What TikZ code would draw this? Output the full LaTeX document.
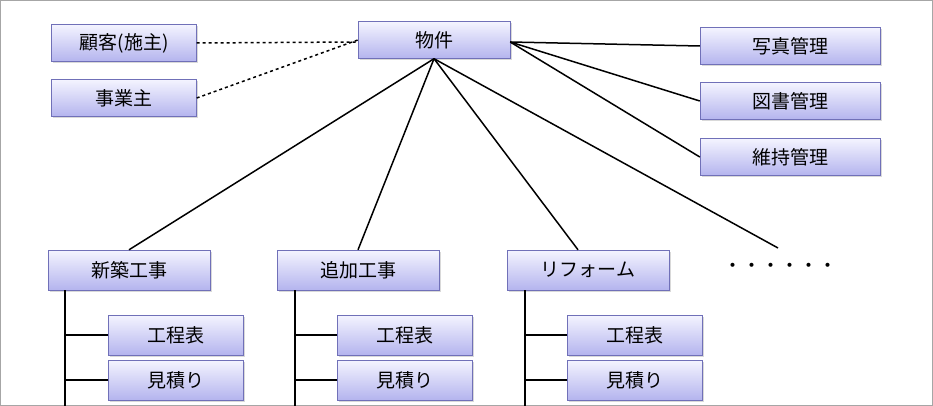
\documentclass[tikz,border=0pt]{standalone}
\usepackage{fontspec}
\newfontfamily\cjk{Noto Sans CJK JP}
\usetikzlibrary{shadows}
\definecolor{boxtop}{HTML}{F4F4FF}
\definecolor{boxbot}{HTML}{B4B4EE}
\definecolor{boxline}{HTML}{7070B8}
\tikzset{
  box/.style={draw=boxline, top color=boxtop, bottom color=boxbot, drop shadow={opacity=0.3,shadow xshift=1.5pt,shadow yshift=-1.5pt},
    minimum height=37pt, inner sep=0pt, font=\cjk\fontsize{19}{19}\selectfont},
  link/.style={line width=1.5pt},
}
\begin{document}
\begin{tikzpicture}[x=1pt,y=-1pt]
\draw[gray!70, line width=1pt] (0.5,0.5) rectangle (932.5,405.5);
\useasboundingbox (0,0) rectangle (933,406);
% top row
\node[box, minimum width=145pt] (kokyaku) at (124,43) {顧客(施主)};
\node[box, minimum width=145pt] (jigyo) at (124,98) {事業主};
\node[box, minimum width=152pt] (bukken) at (434,40) {物件};
\node[box, minimum width=180pt] (shashin) at (790,46) {写真管理};
\node[box, minimum width=180pt] (tosho) at (790,101) {図書管理};
\node[box, minimum width=180pt] (iji) at (790,157) {維持管理};
% work types
\node[box, minimum width=162pt, minimum height=40pt] (shinchiku) at (129,270) {新築工事};
\node[box, minimum width=162pt, minimum height=40pt] (tsuika) at (358,270) {追加工事};
\node[box, minimum width=162pt, minimum height=40pt] (reform) at (588,270) {リフォーム};
\node[font=\cjk\fontsize{19}{19}\selectfont] (etc) at (780,268) {・・・・・・};
\coordinate (etcend) at (778,248);
% documents
\foreach \w/\x/\lx in {shinchiku/176/65, tsuika/405/295, reform/635/525}{
  \node[box, minimum width=135pt, minimum height=40pt] (\w-kotei) at (\x,335) {工程表};
  \node[box, minimum width=135pt, minimum height=40pt] (\w-mitsu) at (\x,380) {見積り};
  \coordinate (\w-top) at (\lx,290);
  \coordinate (\w-bot) at (\lx,406);
  \draw[link] (\w-top) -- (\w-bot);
  \draw[link] (\w-kotei.west) -- (\w-kotei.west -| \w-top);
  \draw[link] (\w-mitsu.west) -- (\w-mitsu.west -| \w-top);
}
% connectors
\draw[link, dashed] (kokyaku.east) -- ([yshift=-2pt]bukken.west);
\draw[link, dashed] (jigyo.east) -- (bukken.west);
\draw[link] ([yshift=-2pt]bukken.east) -- (shashin.west);
\draw[link] ([yshift=-2pt]bukken.east) -- (tosho.west);
\draw[link] ([yshift=-2pt]bukken.east) -- (iji.west);
\draw[link] (bukken.south) -- (shinchiku.north);
\draw[link] (bukken.south) -- (tsuika.north);
\draw[link] (bukken.south) -- ([xshift=-10pt]reform.north);
\draw[link] (bukken.south) -- (etcend);
\end{tikzpicture}
\end{document}
